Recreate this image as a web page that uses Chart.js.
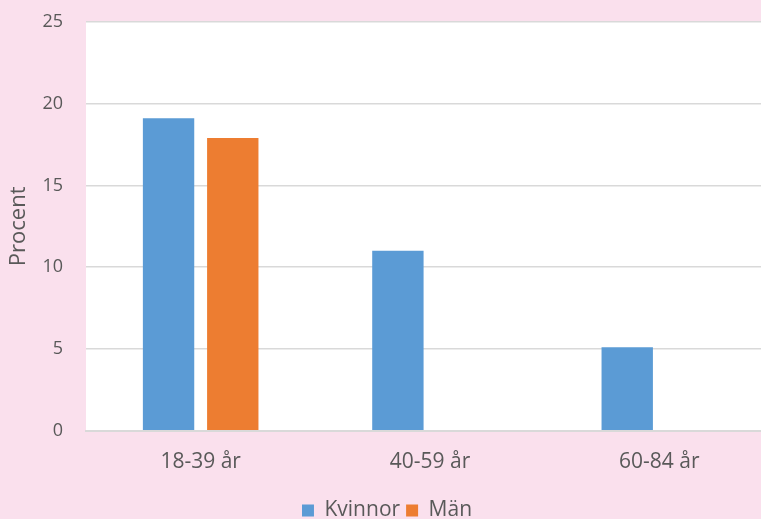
<!DOCTYPE html>
<html>
<head>
<meta charset="utf-8">
<script src="https://cdn.jsdelivr.net/npm/chart.js@4/dist/chart.umd.min.js"></script>
<style>
  html, body { margin: 0; padding: 0; background: #fae0ed; overflow: hidden; }
  #wrap { position: relative; width: 776px; height: 543px; margin-top: -12px; }
</style>
</head>
<body>
<div id="wrap"><canvas id="c"></canvas></div>
<script>
const categories = ['18-39 år', '40-59 år', '60-84 år'];
const kvinnor = [19.1, 11.0, 5.1];
const man = [17.9, 0, 0];
const yTicks = [0, 5, 10, 15, 20, 25];

const textColor = '#595959';
const fontFamily = "'Open Sans', 'Noto Sans', sans-serif";

// white plotting area behind the bars
const plotBackground = {
  id: 'plotBackground',
  beforeDraw(chart) {
    const { ctx, chartArea: a } = chart;
    ctx.save();
    ctx.fillStyle = '#ffffff';
    ctx.fillRect(a.left, a.top, a.right - a.left, a.bottom - a.top);
    ctx.restore();
  }
};

new Chart(document.getElementById('c'), {
  type: 'bar',
  data: {
    labels: categories,
    datasets: [
      { label: 'Kvinnor', data: kvinnor, backgroundColor: '#5b9bd5' },
      { label: 'Män', data: man, backgroundColor: '#ed7d31' }
    ]
  },
  options: {
    responsive: true,
    maintainAspectRatio: false,
    animation: false,
    layout: { padding: { top: 8, right: 2, bottom: 0, left: 0 } },
    datasets: { bar: { barPercentage: 0.8, categoryPercentage: 0.56 } },
    plugins: {
      tooltip: { enabled: false },
      legend: {
        position: 'bottom',
        labels: {
          color: textColor,
          font: { family: fontFamily, size: 21 },
          boxWidth: 12,
          boxHeight: 12,
          padding: 6
        }
      }
    },
    scales: {
      x: {
        grid: { display: false, drawTicks: false },
        border: { display: true, color: '#d9d9d9', width: 2 },
        ticks: { color: textColor, font: { family: fontFamily, size: 21 }, padding: 19 }
      },
      y: {
        min: 0,
        max: 25,
        afterBuildTicks(scale) { scale.ticks = yTicks.map(v => ({ value: v })); },
        afterFit(scale) { scale.width = 86; },
        grid: { color: '#d9d9d9', lineWidth: 1.5, drawTicks: false },
        border: { display: false },
        ticks: { color: textColor, font: { family: fontFamily, size: 18 }, padding: 23 },
        title: {
          display: true,
          text: 'Procent',
          color: textColor,
          font: { family: fontFamily, size: 22 },
          padding: { top: 6, bottom: 0 }
        }
      }
    }
  },
  plugins: [plotBackground]
});
</script>
</body>
</html>
